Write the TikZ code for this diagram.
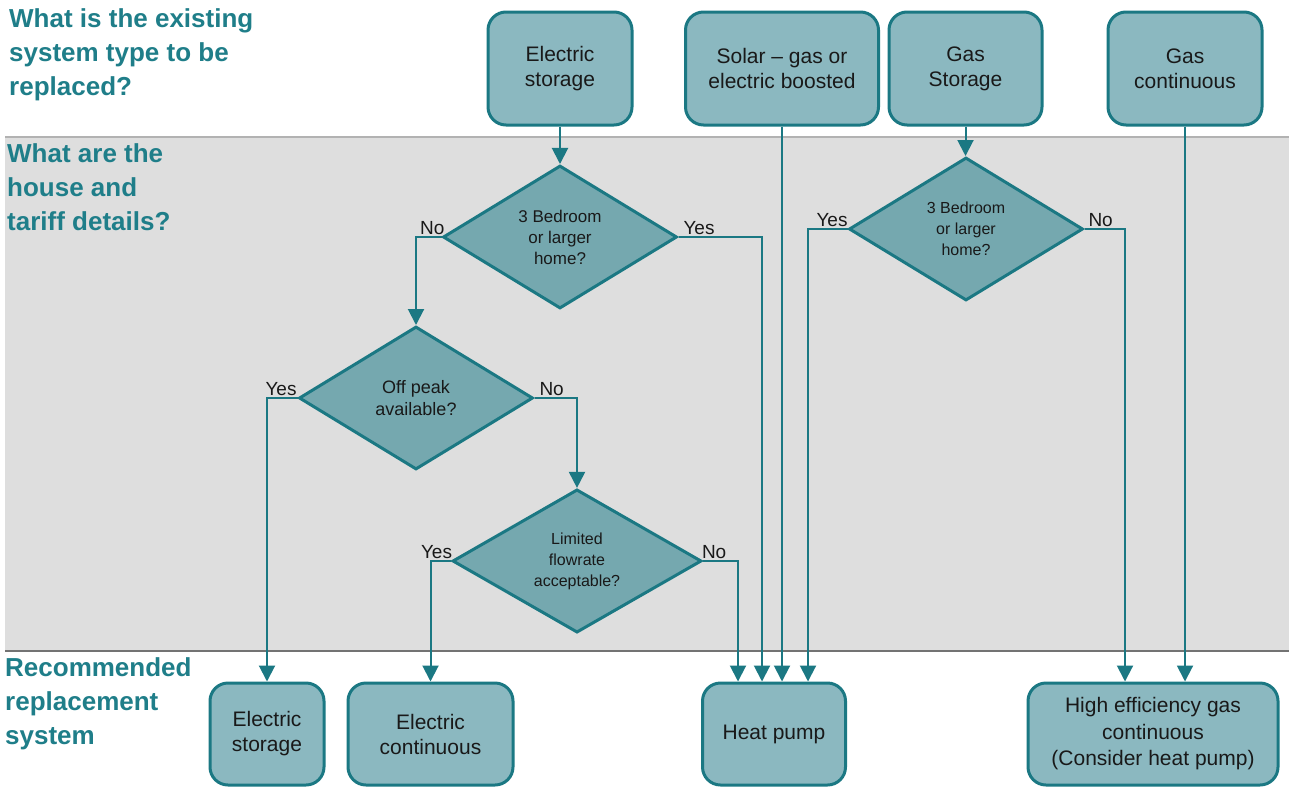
\documentclass[tikz,border=0pt]{standalone}
\usepackage{fontspec}
\setmainfont{Liberation Sans}
\usepackage{tikz}
\usetikzlibrary{shapes.geometric, arrows.meta, positioning, backgrounds}
\definecolor{tealline}{HTML}{1B7883}
\definecolor{boxfill}{HTML}{8BB8C0}
\definecolor{diafill}{HTML}{75A8AF}
\definecolor{headteal}{HTML}{1F7E89}
\definecolor{bandgray}{HTML}{DEDEDE}
\tikzset{
    boxnode/.style = {draw=tealline, fill=boxfill, rectangle, rounded corners=18pt, line width=3pt, 
      inner sep=0pt, minimum height=113pt, align=center, font=\fontsize{21}{25}\selectfont, text=black!90},
    decisionnode/.style = {draw=tealline, fill=diafill, diamond, line width=3pt, inner sep=0pt, 
      minimum width=234pt, minimum height=143pt, align=center, font=\fontsize{17}{21}\selectfont, text=black!90},
    headnode/.style = {draw=none, fill=none, rectangle, inner sep=0pt, anchor=north west, align=left, 
      text=headteal, font=\fontsize{26}{34}\selectfont\bfseries},
    yesnonode/.style = {inner sep=0pt, font=\fontsize{19}{19}\selectfont, text=black!90},
    connect/.style = {tealline, line width=2pt, -{Triangle[width=16pt,length=16pt]}}
}

\begin{document}
\begin{tikzpicture}[x=1pt, y=-1pt]
    \useasboundingbox [fill=white] (0,0) rectangle (1289,787);
    % bands
    \fill [bandgray] (5,137) rectangle (1289,651);
    \draw [black!30, line width=2pt] (5,137) -- (1289,137);
    \draw [black!55, line width=2.5pt] (5,651) -- (1289,651);

    \node [name=headtop, headnode] at (9,8) {What is the existing\\system type to be\\replaced?};
    \node [name=headmid, headnode] at (7,143) {What are the\\house and\\tariff\ details?};
    \node [name=headbot, headnode] at (5,657) {Recommended\\replacement\\system};

    % existing systems
    \node [name=elstore, boxnode, minimum width=144pt] at (560,68.5) {Electric\\storage};
    \node [name=solar, boxnode, minimum width=193pt] at (782,68.5) {Solar -- gas or\\electric boosted};
    \node [name=gasstore, boxnode, minimum width=153pt] at (965.5,68.5) {Gas\\Storage};
    \node [name=gascont, boxnode, minimum width=154pt] at (1185,68.5) {Gas\\continuous};

    % questions
    \node [name=bedleft, decisionnode] at (560,237) {3 Bedroom\\or larger\\home?};
    \node [name=bedright, decisionnode, font=\fontsize{16}{21}\selectfont] at (966,229) {3 Bedroom\\or larger\\home?};
    \node [name=offpeak, decisionnode, font=\fontsize{18}{22}\selectfont] at (416,398) {Off peak\\available?};
    \node [name=flowrate, decisionnode, minimum width=249pt, font=\fontsize{16}{21}\selectfont] at (577,561) {Limited\\flowrate\\acceptable?};

    % replacements
    \node [name=newstore, boxnode, minimum width=114pt, minimum height=102pt] at (267,734) {Electric\\storage};
    \node [name=newcont, boxnode, minimum width=165pt, minimum height=102pt] at (430.5,734) {Electric\\continuous};
    \node [name=heatpump, boxnode, minimum width=143pt, minimum height=102pt] at (774,734) {Heat pump};
    \node [name=higheff, boxnode, minimum width=250pt, minimum height=102pt, font=\fontsize{21}{26.5}\selectfont] 
        at (1153,734) {High efficiency gas\\continuous\\(Consider heat pump)};

    % connectors
    \draw [connect] (elstore) -- (bedleft);
    \draw [connect] (gasstore) -- (gasstore |- bedright.north);
    \draw [connect] (solar.south) -- (solar.south |- heatpump.north);
    \draw [connect] (gascont.south) -- (gascont.south |- higheff.north);

    \draw [connect] (bedleft.west) node [yesnonode, anchor=south east, xshift=4pt, yshift=1pt] {No} -| (offpeak.north);
    \draw [connect] (bedleft.east) node [yesnonode, anchor=south west, xshift=4pt, yshift=1pt] {Yes} -| ([xshift=-12pt]heatpump.north);
    \draw [connect] (bedright.west) node [yesnonode, anchor=south east, xshift=1pt, yshift=1pt] {Yes} -| ([xshift=34pt]heatpump.north);
    \draw [connect] (bedright.east) node [yesnonode, anchor=south west, xshift=3pt, yshift=1pt] {No} -| ([xshift=-28pt]higheff.north);
    \draw [connect] (offpeak.west) node [yesnonode, anchor=south east, yshift=1pt] {Yes} -| (newstore.north);
    \draw [connect] (offpeak.east) node [yesnonode, anchor=south west, xshift=4pt, yshift=1pt] {No} -| (flowrate.north);
    \draw [connect] (flowrate.west) node [yesnonode, anchor=south east, xshift=2pt, yshift=1pt] {Yes} -| (newcont.north);
    \draw [connect] (flowrate.east) node [yesnonode, anchor=south west, xshift=-2pt, yshift=1pt] {No} -| ([xshift=-36pt]heatpump.north);
\end{tikzpicture}
\end{document}
